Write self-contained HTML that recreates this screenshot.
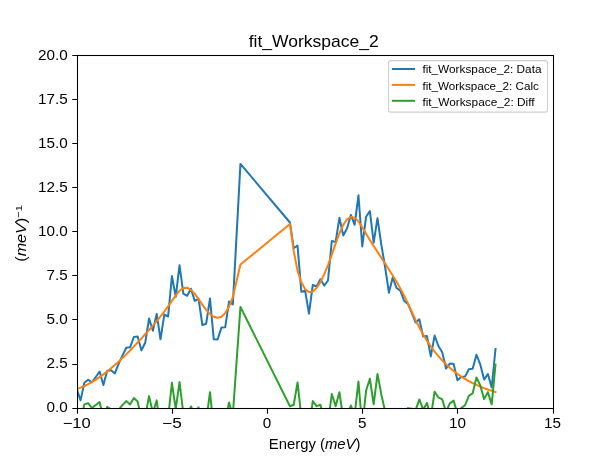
<!DOCTYPE html>
<html><head><meta charset="utf-8"><style>
html,body{margin:0;padding:0;background:#fff;}
svg{display:block;will-change:transform;}
text{font-family:"Liberation Sans",sans-serif;fill:#000;}
</style></head><body>
<svg width="614" height="458" viewBox="0 0 614 458">
<defs><clipPath id="c"><rect x="77" y="55" width="476" height="353"/></clipPath></defs>
<rect x="0" y="0" width="614" height="458" fill="#fff"/>
<g clip-path="url(#c)" fill="none" stroke-width="2" stroke-linejoin="round" stroke-linecap="square">
<path d="M76.75 389.00L80.56 400.40L84.36 382.70L88.17 379.70L91.98 382.40L95.78 377.00L99.59 371.50L103.40 385.10L107.20 370.70L111.01 370.20L114.82 373.40L118.62 363.80L122.43 355.60L126.24 347.80L130.05 347.30L133.85 337.00L137.66 336.50L141.47 350.40L145.27 342.50L149.08 318.50L152.89 330.80L156.69 313.90L160.50 339.30L164.31 314.60L168.11 316.50L171.92 276.10L175.73 296.80L179.53 265.20L183.34 293.60L187.15 295.80L190.95 288.70L194.76 300.90L198.57 298.90L202.37 325.00L206.18 323.70L209.99 298.50L213.79 339.30L217.60 339.50L221.41 327.60L225.22 327.30L229.02 301.60L232.83 304.50L240.44 163.90L289.93 222.50L293.74 248.30L297.54 245.50L301.35 291.80L305.16 290.80L308.96 313.60L312.77 285.00L316.58 286.50L320.39 279.30L324.19 285.60L328.00 280.50L331.81 240.90L335.61 242.10L339.42 217.80L343.23 235.40L347.03 228.40L350.84 214.90L354.65 224.80L358.45 195.30L362.26 246.50L366.07 216.70L369.87 211.10L373.68 242.70L377.49 218.20L381.29 244.50L385.10 267.00L388.91 292.70L392.71 277.60L396.52 288.00L400.33 290.60L404.13 301.00L407.94 303.90L411.75 312.90L415.56 322.40L419.36 319.40L423.17 336.60L426.98 336.10L430.78 356.40L434.59 335.60L438.40 346.00L442.20 352.20L446.01 368.60L449.82 363.60L453.62 364.00L457.43 380.20L461.24 377.00L465.04 376.60L468.85 369.30L472.66 368.80L476.46 354.80L480.27 364.40L484.08 379.60L487.88 374.00L491.69 387.50L495.50 349.00" stroke="#1f77b4"/>
<path d="M76.75 389.04L80.56 387.63L84.36 385.98L88.17 384.10L91.98 381.98L95.78 379.65L99.59 377.11L103.40 374.37L107.20 371.44L111.01 368.34L114.82 365.07L118.62 361.64L122.43 358.06L126.24 354.35L130.05 350.52L133.85 346.58L137.66 342.55L141.47 338.43L145.27 334.25L149.08 330.00L152.89 325.64L156.69 321.15L160.50 316.47L164.31 311.56L168.11 306.38L171.92 300.90L175.73 295.36L179.53 290.71L183.34 287.97L187.15 287.73L190.95 289.88L194.76 293.93L198.57 299.10L202.37 304.65L206.18 309.81L209.99 313.96L213.79 316.74L217.60 317.76L221.41 316.68L225.22 313.12L229.02 306.72L232.83 297.12L240.44 264.60L289.93 223.90L293.74 251.20L297.54 270.67L301.35 282.33L305.16 289.28L308.96 292.13L312.77 291.49L316.58 287.98L320.39 282.13L324.19 274.35L328.00 265.03L331.81 254.56L335.61 243.57L339.42 233.25L343.23 224.88L347.03 219.40L350.84 216.97L354.65 217.65L358.45 221.39L362.26 227.22L366.07 233.70L369.87 239.96L373.68 245.99L377.49 251.89L381.29 257.71L385.10 263.53L388.91 269.43L392.71 275.49L396.52 281.81L400.33 288.49L404.13 295.66L407.94 303.41L411.75 311.71L415.56 319.96L419.36 327.57L423.17 334.48L426.98 340.74L430.78 346.40L434.59 351.53L438.40 356.19L442.20 360.41L446.01 364.27L449.82 367.79L453.62 370.99L457.43 373.91L461.24 376.56L465.04 378.97L468.85 381.15L472.66 383.13L476.46 384.93L480.27 386.58L484.08 388.09L487.88 389.49L491.69 390.79L495.50 392.03" stroke="#ff7f0e"/>
<path d="M76.75 407.58L80.56 420.39L84.36 404.34L88.17 403.22L91.98 408.04L95.78 404.97L99.59 402.01L103.40 418.35L107.20 406.88L111.01 409.48L114.82 415.95L118.62 409.78L122.43 405.16L126.24 401.07L130.05 404.40L133.85 398.04L137.66 401.57L141.47 419.59L145.27 415.87L149.08 396.12L152.89 412.78L156.69 400.37L160.50 430.45L164.31 410.66L168.11 417.74L171.92 382.82L175.73 409.06L179.53 382.11L183.34 413.25L187.15 415.69L190.95 406.44L194.76 414.59L198.57 407.42L202.37 427.97L206.18 421.51L209.99 392.16L213.79 430.18L217.60 429.36L221.41 418.54L225.22 421.80L229.02 402.50L232.83 415.00L240.44 306.92L289.93 406.22L293.74 404.72L297.54 382.45L301.35 417.09L305.16 409.14L308.96 429.09L312.77 401.13L316.58 406.14L320.39 404.79L324.19 418.87L328.00 423.09L331.81 393.96L335.61 406.15L339.42 392.17L343.23 418.14L347.03 416.62L350.84 405.55L354.65 414.77L358.45 381.53L362.26 426.90L366.07 390.62L369.87 378.76L373.68 404.33L377.49 373.93L381.29 394.41L385.10 411.09L388.91 430.89L392.71 409.73L396.52 413.81L400.33 409.73L404.13 412.96L407.94 408.11L411.75 408.81L415.56 410.06L419.36 399.45L423.17 409.74L426.98 402.98L430.78 417.62L434.59 391.69L438.40 397.43L442.20 399.41L446.01 411.95L449.82 403.43L453.62 400.63L457.43 413.91L461.24 408.06L465.04 405.25L468.85 395.77L472.66 393.29L476.46 377.49L480.27 385.44L484.08 399.13L487.88 392.13L491.69 404.33L495.50 364.59" stroke="#2ca02c"/>
</g>
<rect x="77.5" y="55.5" width="476.0" height="353.0" fill="none" stroke="#000" stroke-width="1.067" stroke-linejoin="miter"/>
<path d="M77.5 408.5V413.70M172.5 408.5V413.70M267.5 408.5V413.70M362.5 408.5V413.70M457.5 408.5V413.70M553.5 408.5V413.70M77.5 408.5H72.30M77.5 364.5H72.30M77.5 319.5H72.30M77.5 275.5H72.30M77.5 231.5H72.30M77.5 187.5H72.30M77.5 143.5H72.30M77.5 99.5H72.30M77.5 55.5H72.30" stroke="#000" stroke-width="1.067" fill="none"/>
<g font-size="14.13"><text x="76.75" y="427.8" text-anchor="middle" textLength="28.14" lengthAdjust="spacingAndGlyphs">−10</text><text x="171.92" y="427.8" text-anchor="middle" textLength="19.66" lengthAdjust="spacingAndGlyphs">−5</text><text x="267.09" y="427.8" text-anchor="middle" textLength="8.48" lengthAdjust="spacingAndGlyphs">0</text><text x="362.26" y="427.8" text-anchor="middle" textLength="8.48" lengthAdjust="spacingAndGlyphs">5</text><text x="457.43" y="427.8" text-anchor="middle" textLength="16.97" lengthAdjust="spacingAndGlyphs">10</text><text x="552.60" y="427.8" text-anchor="middle" textLength="16.97" lengthAdjust="spacingAndGlyphs">15</text><text x="67.70" y="412.37" text-anchor="end" textLength="21.20" lengthAdjust="spacingAndGlyphs">0.0</text><text x="67.70" y="368.29" text-anchor="end" textLength="21.20" lengthAdjust="spacingAndGlyphs">2.5</text><text x="67.70" y="324.20" text-anchor="end" textLength="21.20" lengthAdjust="spacingAndGlyphs">5.0</text><text x="67.70" y="280.12" text-anchor="end" textLength="21.20" lengthAdjust="spacingAndGlyphs">7.5</text><text x="67.70" y="236.04" text-anchor="end" textLength="29.69" lengthAdjust="spacingAndGlyphs">10.0</text><text x="67.70" y="191.96" text-anchor="end" textLength="29.69" lengthAdjust="spacingAndGlyphs">12.5</text><text x="67.70" y="147.88" text-anchor="end" textLength="29.69" lengthAdjust="spacingAndGlyphs">15.0</text><text x="67.70" y="103.79" text-anchor="end" textLength="29.69" lengthAdjust="spacingAndGlyphs">17.5</text><text x="67.70" y="59.71" text-anchor="end" textLength="29.69" lengthAdjust="spacingAndGlyphs">20.0</text></g>
<text x="313.68" y="46.6" font-size="17" text-anchor="middle" textLength="130" lengthAdjust="spacingAndGlyphs">fit_Workspace_2</text>
<text x="314.68" y="448.7" font-size="14.13" text-anchor="middle" textLength="91.6" lengthAdjust="spacingAndGlyphs">Energy (<tspan font-style="italic">meV</tspan>)</text>
<g transform="translate(26.2,233.3) rotate(-90)"><text x="0" y="0" font-size="14.13" text-anchor="middle" textLength="56.9" lengthAdjust="spacingAndGlyphs">(<tspan font-style="italic">meV</tspan>)<tspan font-size="9.9" dy="-4.4">−1</tspan></text></g>
<rect x="388.6" y="60.6" width="158.8" height="51.5" rx="2.2" ry="2.2" fill="#fff" fill-opacity="0.8" stroke="#cfcfcf" stroke-width="1.067"/>
<g stroke-width="2" fill="none">
<path d="M391.9 69.0H415.0" stroke="#1f77b4"/>
<path d="M391.9 84.9H415.0" stroke="#ff7f0e"/>
<path d="M391.9 100.8H415.0" stroke="#2ca02c"/>
</g>
<g font-size="11.3">
<text x="422.4" y="72.7" textLength="119.11" lengthAdjust="spacingAndGlyphs">fit_Workspace_2: Data</text>
<text x="422.4" y="89.5" textLength="116.46" lengthAdjust="spacingAndGlyphs">fit_Workspace_2: Calc</text>
<text x="422.4" y="105.8" textLength="112.17" lengthAdjust="spacingAndGlyphs">fit_Workspace_2: Diff</text>
</g>
</svg>
</body></html>
